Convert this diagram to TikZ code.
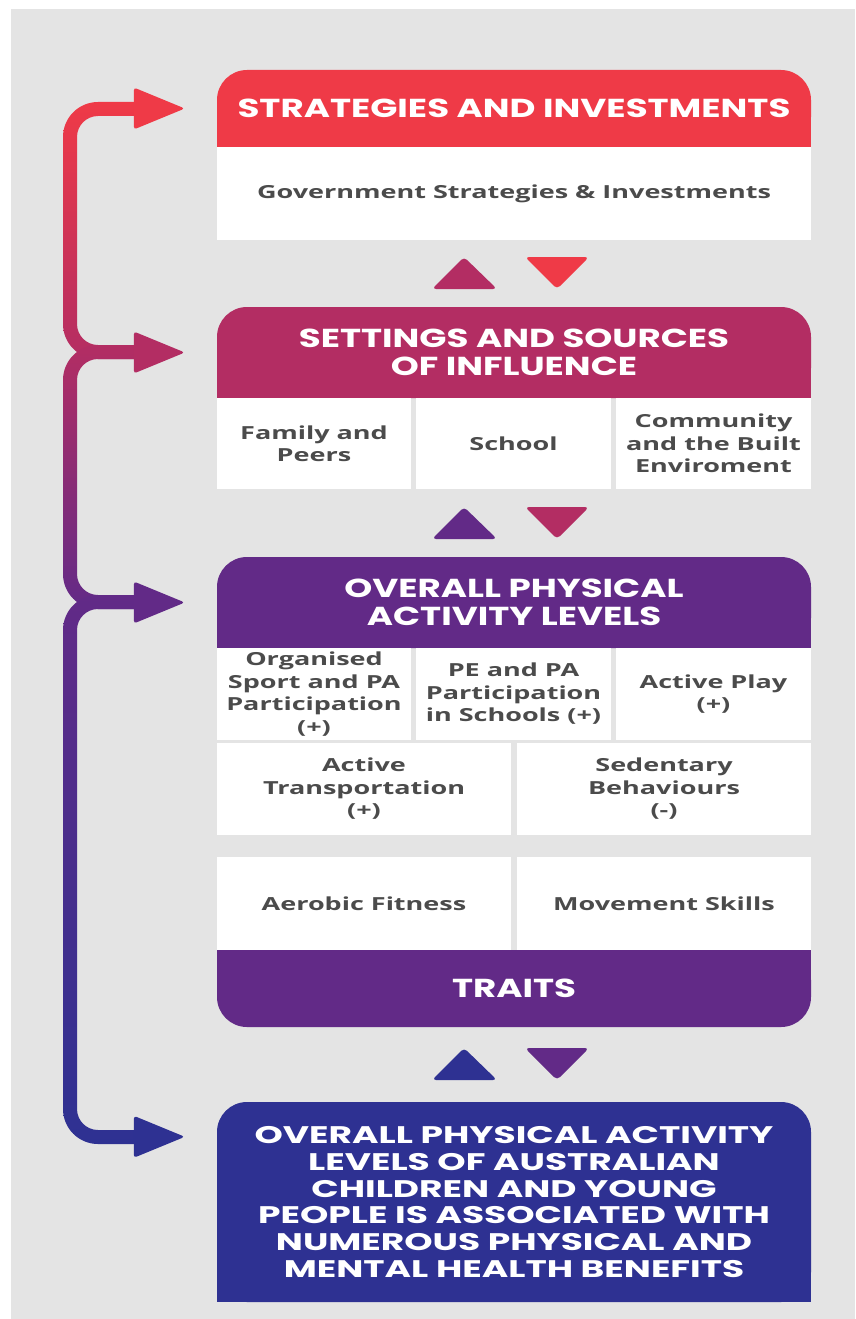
\documentclass[tikz,border=0pt]{standalone}
\usepackage{fontspec}
\newfontfamily\headfont{Poppins}[FakeStretch=1.37]
\newfontfamily\outfont{Poppins}[FakeStretch=1.5]
\newfontfamily\cellfont{Open Sans}[FakeStretch=1.5]
\definecolor{cred}{RGB}{239,58,71}
\definecolor{cmag}{RGB}{179,45,99}
\definecolor{cpur}{RGB}{98,42,135}
\definecolor{cblue}{RGB}{46,49,146}
\definecolor{bggray}{RGB}{228,228,228}
\definecolor{ctext}{RGB}{75,75,75}
\tikzset{
	header/.style={fill=#1, text=white, font=\headfont\bfseries\fontsize{26}{28}\selectfont,
		align=center, inner sep=0, minimum width=594, rounded corners=30},
	cell/.style={fill=white, text=ctext, font=\cellfont\bfseries\fontsize{18}{22.5}\selectfont,
		align=center, inner sep=0},
}
\begin{document}
\begin{tikzpicture}[x=1pt, y=1pt]
	% Hintergrund
	\fill[white] (0,0) rectangle (855,-1319);
	\fill[bggray] (11,-9) rectangle (855,-1319);
	% Klammer links
	\foreach \ya/\yb/\ca/\cb in {109/352/cred/cmag, 352/602/cmag/cpur, 602/1137/cpur/cblue}
		\shade[top color=\ca, bottom color=\cb] (136,-\ya+7) -- (98,-\ya+7) arc (90:180:35)
			-- (63,-\yb+28) arc (180:270:35) -- (136,-\yb-7) -- (136,-\yb+7) -- (98,-\yb+7)
			arc (270:180:21) -- (77,-\ya-28) arc (180:90:21) -- (136,-\ya-7) -- cycle;
	% Kopfzeilen
	\fill[cred] (217,-110) rectangle (811,-147);
	\node[header=cred, minimum height=77] (strat) at (514,-108.5) {STRATEGIES AND INVESTMENTS};
	\fill[cmag] (217,-353) rectangle (811,-398);
	\node[header=cmag, minimum height=91] (settings) at (514,-352.5) {SETTINGS AND SOURCES\\OF INFLUENCE};
	\fill[cpur] (217,-603) rectangle (811,-648);
	\node[header=cpur, minimum height=91] (overall) at (514,-602.5) {OVERALL PHYSICAL\\ACTIVITY LEVELS};
	\fill[cpur] (217,-950) rectangle (811,-990);
	\node[header=cpur, minimum height=77] (traits) at (514,-988.5) {TRAITS};
	\fill[cblue] (217,-1200) rectangle (811,-1302);
	\node[header=cblue, minimum height=200, font=\outfont\bfseries\fontsize{24}{26.8}\selectfont]
		(outcome) at (514,-1202) {OVERALL PHYSICAL ACTIVITY\\LEVELS OF AUSTRALIAN\\CHILDREN AND YOUNG\\PEOPLE IS ASSOCIATED WITH\\NUMEROUS PHYSICAL AND\\MENTAL HEALTH BENEFITS};
	% Felder
	\node[cell, minimum width=594, minimum height=93] (gov) at (514,-193.5) {Government Strategies \& Investments};
	\node[cell, minimum width=194, minimum height=91] (family) at (314,-443.5) {Family and\\Peers};
	\node[cell, minimum width=195, minimum height=91] (school) at (513.5,-443.5) {School};
	\node[cell, minimum width=195, minimum height=91] (community) at (713.5,-443.5) {Community\\and the Built\\Enviroment};
	\node[cell, minimum width=194, minimum height=92] (organised) at (314,-694) {Organised\\Sport and PA\\Participation\\(+)};
	\node[cell, minimum width=195, minimum height=92] (pe) at (513.5,-694) {PE and PA\\Participation\\in Schools (+)};
	\node[cell, minimum width=195, minimum height=92] (play) at (713.5,-694) {Active Play\\(+)};
	\node[cell, minimum width=294, minimum height=92] (transport) at (364,-789) {Active\\Transportation\\(+)};
	\node[cell, minimum width=294, minimum height=92] (sedentary) at (664,-789) {Sedentary\\Behaviours\\(-)};
	\node[cell, minimum width=294, minimum height=93] (aerobic) at (364,-903.5) {Aerobic Fitness};
	\node[cell, minimum width=294, minimum height=93] (movement) at (664,-903.5) {Movement Skills};
	% Pfeilspitzen
	\coordinate (outin) at ([yshift=-35]outcome.north west);
	\foreach \p/\c in {strat.west/cred, settings.west/cmag, overall.west/cpur, outin/cblue}
		\fill[\c, rounded corners=3] ([shift={(-83,21)}]\p) -- ([xshift=-32]\p)
			-- ([shift={(-83,-21)}]\p) -- cycle;
	% Dreiecke zwischen den Ebenen
	\foreach \yt/\cu/\cd in {257/cmag/cred, 507/cpur/cmag, 1048/cblue/cpur} {
		\fill[\cu, rounded corners=4] (432,-\yt-32) -- (464,-\yt) -- (497,-\yt-32) -- cycle;
		\fill[\cd, rounded corners=4] (525,-\yt) -- (557,-\yt-32) -- (589,-\yt) -- cycle;
	}
\end{tikzpicture}
\end{document}
